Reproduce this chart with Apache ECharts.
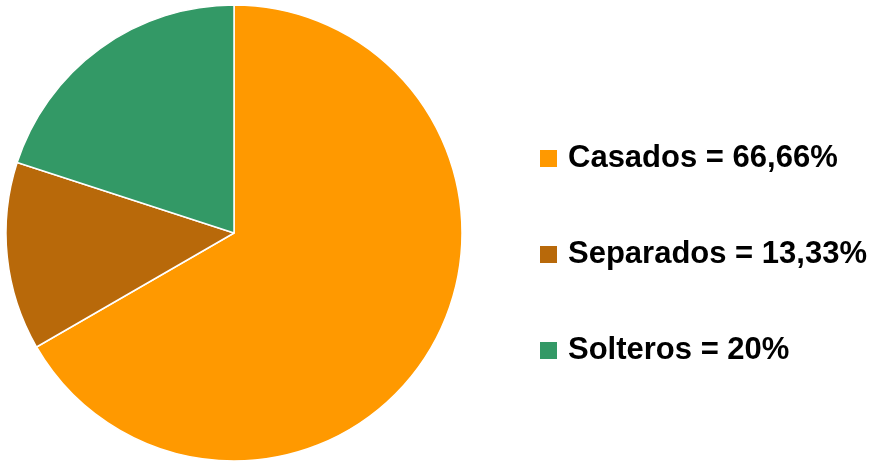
<!DOCTYPE html>
<html>
<head>
<meta charset="utf-8">
<script src="https://cdn.jsdelivr.net/npm/echarts@6/dist/echarts.min.js"></script>
<style>
  html, body { margin: 0; padding: 0; background: #fff; }
  #chart { width: 873px; height: 462px; }
</style>
</head>
<body>
<div id="chart"></div>
<script>
const categories = ['Casados', 'Separados', 'Solteros']
const values = [66.66, 13.33, 20]
const percentLabels = ['66,66%', '13,33%', '20%']
const colors = ['#FF9900', '#B8690A', '#339966']

const chart = echarts.init(document.getElementById('chart'))
chart.setOption({
  animation: false,
  color: colors,
  legend: {
    orient: 'vertical',
    left: 538,
    top: 143,
    padding: 0,
    itemWidth: 19,
    itemHeight: 19,
    itemGap: 65,
    icon: 'rect',
    data: categories,
    formatter: function (name) {
      return name + ' = ' + percentLabels[categories.indexOf(name)]
    },
    textStyle: {
      fontFamily: 'Liberation Sans, Arial, sans-serif',
      fontWeight: 'bold',
      fontSize: 31,
      lineHeight: 31,
      color: '#000',
      padding: [0, 0, 0, 5]
    }
  },
  series: [
    {
      type: 'pie',
      center: [234, 233],
      radius: 228,
      startAngle: 90,
      clockwise: true,
      label: { show: false },
      labelLine: { show: false },
      emphasis: { disabled: true },
      itemStyle: { borderColor: '#fff', borderWidth: 1.5 },
      data: categories.map(function (c, i) {
        return { name: c, value: values[i] }
      })
    }
  ]
})
</script>
</body>
</html>
